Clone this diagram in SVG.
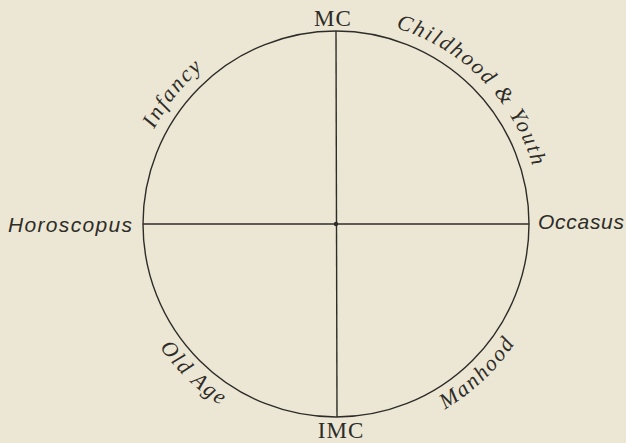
<svg xmlns="http://www.w3.org/2000/svg" width="626" height="443" viewBox="0 0 626 443">
  <style>
    .bg { fill: #ECE7D4; }
    .ln { fill: none; stroke: #2e2c28; stroke-width: 1.4; }
    .cap { font-family: "Liberation Serif", "DejaVu Serif", serif; font-size: 23px; fill: #2e2c28; letter-spacing: 1px; }
    .side { font-family: "Liberation Sans", "DejaVu Sans", sans-serif; font-style: italic; font-size: 21px; fill: #2e2c28; }
    .arc { font-family: "Liberation Serif", "DejaVu Serif", serif; font-style: italic; font-size: 22px; fill: #2e2c28; letter-spacing: 2px; }
  </style>
  <defs>
    <path id="topArc" d="M 131,224 A 205 205 0 0 1 541,224"/>
    <path id="botArc" d="M 121,224 A 215 215 0 0 0 551,224"/>
  </defs>
  <rect class="bg" x="0" y="0" width="626" height="443"/>
  <g id="connectors">
    <circle class="ln" cx="336" cy="224" r="193"/>
    <line class="ln" x1="336" y1="31" x2="337" y2="417"/>
    <line class="ln" x1="143" y1="224" x2="529" y2="224"/>
    <circle cx="336" cy="224" r="2.2" fill="#2e2c28"/>
  </g>
  <g id="mc"><text class="cap" x="333" y="26" text-anchor="middle">MC</text></g>
  <g id="imc"><text class="cap" x="341" y="438" text-anchor="middle">IMC</text></g>
  <g id="horoscopus"><text class="side" x="8" y="232" textLength="124" lengthAdjust="spacing">Horoscopus</text></g>
  <g id="occasus"><text class="side" x="538" y="229" textLength="86" lengthAdjust="spacing">Occasus</text></g>
  <g id="infancy"><text class="arc"><textPath href="#topArc" startOffset="21.5%" text-anchor="middle">Infancy</textPath></text></g>
  <g id="childhood"><text class="arc"><textPath href="#topArc" startOffset="75.3%" text-anchor="middle">Childhood &amp; Youth</textPath></text></g>
  <g id="oldage"><text class="arc"><textPath href="#botArc" startOffset="25.8%" text-anchor="middle">Old Age</textPath></text></g>
  <g id="manhood"><text class="arc"><textPath href="#botArc" startOffset="74.2%" text-anchor="middle">Manhood</textPath></text></g>
</svg>
